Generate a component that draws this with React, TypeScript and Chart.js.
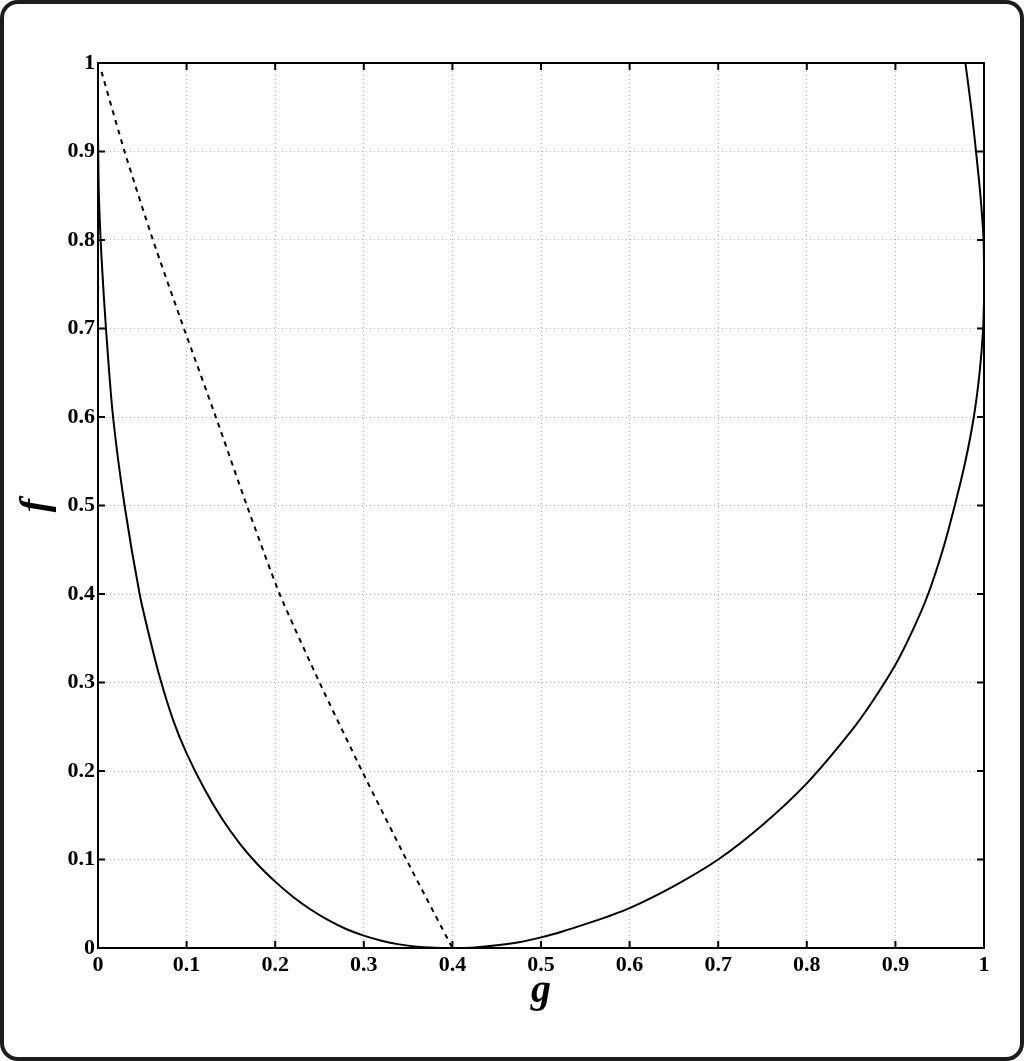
import React, { useEffect, useRef } from "react";
import { Chart, registerables } from "chart.js";

Chart.register(...registerables);

// Solid curve f(g), traced from top-left, through the minimum, up to top-right
const curveG = [
  0, 0.001, 0.004, 0.009, 0.017, 0.03, 0.047, 0.058, 0.07, 0.085, 0.1, 0.12, 0.14, 0.16, 0.18, 0.2, 0.22, 0.24, 0.26, 0.28, 0.3, 0.32, 0.34, 0.36, 0.38, 0.4,
  0.425, 0.45, 0.475, 0.5, 0.525, 0.55, 0.575, 0.6, 0.65, 0.7, 0.75, 0.8, 0.85, 0.875, 0.9, 0.92,
  0.937, 0.9535, 0.967, 0.979, 0.9885, 0.995, 0.999, 1.0005, 0.9995, 0.996, 0.991, 0.9855, 0.979,
];
const curveF = [
  0.92, 0.85, 0.78, 0.7, 0.6, 0.5, 0.4, 0.352, 0.305, 0.257, 0.22, 0.18, 0.146, 0.118, 0.0946, 0.075, 0.058, 0.0435, 0.0315, 0.0215, 0.014, 0.0082, 0.0041, 0.0015, 0.0003, 0,
  0.0007, 0.003, 0.0065, 0.012, 0.019, 0.027, 0.0355, 0.045, 0.07, 0.1, 0.139, 0.186, 0.245, 0.28, 0.32, 0.36,
  0.4, 0.45, 0.5, 0.55, 0.6, 0.65, 0.7, 0.75, 0.8, 0.85, 0.9, 0.95, 1.0,
];

// Dashed curve
const dashG = [0.004, 0.03, 0.062, 0.097, 0.133, 0.168, 0.205, 0.25, 0.298, 0.348, 0.4];
const dashF = [0.99, 0.9, 0.8, 0.7, 0.6, 0.5, 0.4, 0.3, 0.2, 0.1, 0];

const gTicks = [0, 0.1, 0.2, 0.3, 0.4, 0.5, 0.6, 0.7, 0.8, 0.9, 1];
const gTickLabels = ["0", "0.1", "0.2", "0.3", "0.4", "0.5", "0.6", "0.7", "0.8", "0.9", "1"];
const fTicks = [0, 0.1, 0.2, 0.3, 0.4, 0.5, 0.6, 0.7, 0.8, 0.9, 1];
const fTickLabels = ["0", "0.1", "0.2", "0.3", "0.4", "0.5", "0.6", "0.7", "0.8", "0.9", "1"];

const xTitle = "g";
const yTitle = "f";

const framePlugin = {
  id: "framePlugin",
  afterDraw(chart: any) {
    const { ctx, chartArea } = chart;
    const { left, right, top, bottom } = chartArea;
    const xs = chart.scales.x;
    const ys = chart.scales.y;
    const tl = 7;
    ctx.save();
    ctx.strokeStyle = "#000";
    ctx.lineWidth = 2;
    ctx.beginPath();
    gTicks.forEach((v) => {
      const px = xs.getPixelForValue(v);
      ctx.moveTo(px, bottom);
      ctx.lineTo(px, bottom - tl);
      ctx.moveTo(px, top);
      ctx.lineTo(px, top + tl);
    });
    fTicks.forEach((v) => {
      const py = ys.getPixelForValue(v);
      ctx.moveTo(left, py);
      ctx.lineTo(left + tl, py);
      ctx.moveTo(right, py);
      ctx.lineTo(right - tl, py);
    });
    ctx.stroke();
    ctx.lineWidth = 2;
    ctx.strokeRect(left, top, right - left, bottom - top);
    ctx.restore();
  },
};

export default function App() {
  const canvasRef = useRef<HTMLCanvasElement | null>(null);

  useEffect(() => {
    if (!canvasRef.current) return;
    const tickFont = { family: "'Liberation Serif', 'Times New Roman', serif", size: 22, weight: "bold" as const };
    const titleFont = { family: "'Liberation Serif', 'Times New Roman', serif", size: 40, weight: "bold" as const, style: "italic" as const };
    const grid = {
      color: "#b4b4b4",
      lineWidth: 1,
      drawTicks: false,
    };
    const border = { display: false, dash: [1, 3] };
    const chart = new Chart(canvasRef.current, {
      type: "scatter",
      data: {
        datasets: [
          {
            data: curveG.map((g, i) => ({ x: g, y: curveF[i] })),
            showLine: true,
            borderColor: "#000",
            borderWidth: 2,
            pointRadius: 0,
            tension: 0.3,
            fill: false,
          },
          {
            data: dashG.map((g, i) => ({ x: g, y: dashF[i] })),
            showLine: true,
            borderColor: "#000",
            borderWidth: 2,
            borderDash: [5, 5],
            pointRadius: 0,
            tension: 0.2,
            fill: false,
          },
        ],
      },
      options: {
        animation: false,
        responsive: false,
        maintainAspectRatio: false,
        events: [],
        layout: { padding: { left: 0, top: 63, right: 40, bottom: 0 } },
        plugins: {
          legend: { display: false },
          tooltip: { enabled: false },
        },
        scales: {
          x: {
            type: "linear",
            min: 0,
            max: 1,
            afterFit: (s: any) => {
              s.height = 113;
            },
            afterBuildTicks: (s: any) => {
              s.ticks = gTicks.map((v) => ({ value: v }));
            },
            border,
            grid,
            ticks: {
              color: "#000",
              font: tickFont,
              padding: 4,
              maxRotation: 0,
              autoSkip: false,
              callback: (_v: any, i: number) => gTickLabels[i],
            },
            title: {
              display: true,
              text: xTitle,
              color: "#000",
              font: titleFont,
              padding: { top: 0, bottom: 45 },
            },
          },
          y: {
            type: "linear",
            min: 0,
            max: 1,
            afterFit: (s: any) => {
              s.width = 98;
            },
            afterBuildTicks: (s: any) => {
              s.ticks = fTicks.map((v) => ({ value: v }));
            },
            border,
            grid,
            ticks: {
              color: "#000",
              font: tickFont,
              padding: 3,
              autoSkip: false,
              callback: (_v: any, i: number) => fTickLabels[i],
            },
            title: {
              display: true,
              text: yTitle,
              color: "#000",
              font: titleFont,
              padding: { top: 13, bottom: 0 },
            },
          },
        },
      } as any,
      plugins: [framePlugin],
    });
    return () => chart.destroy();
  }, []);

  return (
    <div style={{ position: "absolute", left: 0, top: 0, width: 1024, height: 1061, background: "#fff" }}>
      <div
        style={{
          position: "absolute",
          left: 0,
          top: 0,
          width: 1024,
          height: 1061,
          boxSizing: "border-box",
          border: "4px solid #1c1c1c",
          borderRadius: 18,
        }}
      />
      <canvas
        ref={canvasRef}
        width={1024}
        height={1061}
        style={{ position: "absolute", left: 0, top: 0, width: 1024, height: 1061 }}
      />
    </div>
  );
}
